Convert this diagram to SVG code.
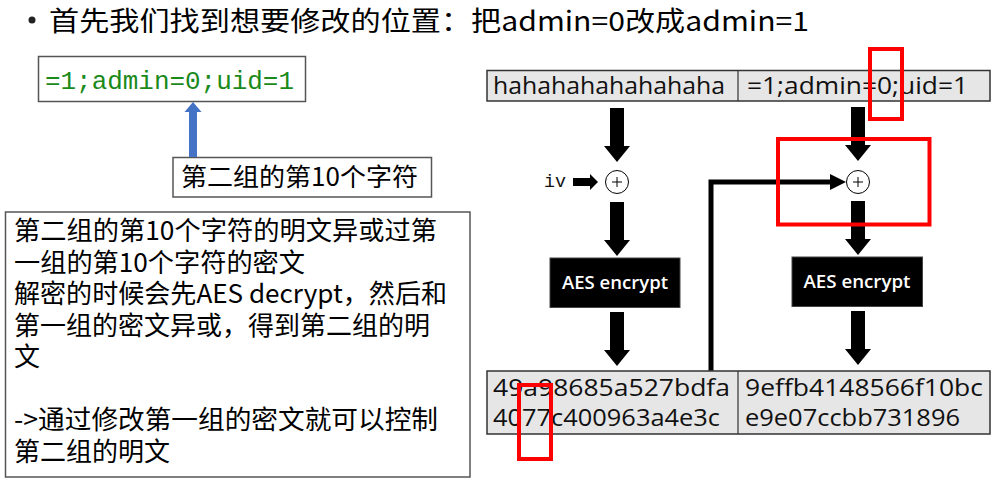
<svg xmlns="http://www.w3.org/2000/svg" xmlns:xlink="http://www.w3.org/1999/xlink" width="997" height="486" viewBox="0 0 997 486">
<style>
.cjk{font-family:"Noto Sans CJK SC","Noto Sans",sans-serif;fill:#000}
.lat{font-family:"Open Sans","Noto Sans","Noto Sans CJK SC",sans-serif;fill:#111}
.mono{font-family:"Liberation Mono","DejaVu Sans Mono",monospace}
.row{fill:#e6e6e6;stroke:#333;stroke-width:1.5}
.box{fill:#fff;stroke:#555;stroke-width:1.5}
.red{fill:none;stroke:#ff0000;stroke-width:4}
.aes{fill:#000;stroke:#444;stroke-width:1}
.aestxt{font-family:"Open Sans","Noto Sans",sans-serif;font-size:18px;font-weight:600;fill:#fff}
.xor{fill:#fff;stroke:#000;stroke-width:1}
</style>
<defs>
<path id="darrow" d="M-7,0 H7 V38 H13 L0,54 L-13,38 H-7 Z" fill="#000"/>
</defs>

<g id="title">
<circle cx="32" cy="20" r="3.5" fill="#222"/>
<text class="cjk" x="49" y="31" font-size="27" textLength="760" lengthAdjust="spacingAndGlyphs" fill="#222">首先我们找到想要修改的位置：把admin=0改成admin=1</text>
</g>

<g id="plaintext-box">
<rect x="38.5" y="56.5" width="267" height="45" class="box"/>
<text class="mono" x="45" y="89" font-size="25" fill="#1a8a1a" textLength="249" lengthAdjust="spacingAndGlyphs">=1;admin=0;uid=1</text>
</g>

<g id="char-label">
<rect x="173" y="157.5" width="258.5" height="39.5" class="box"/>
<text class="cjk" x="181" y="186" font-size="25" textLength="237" lengthAdjust="spacingAndGlyphs">第二组的第10个字符</text>
</g>

<g id="explain-box">
<rect x="5.5" y="212" width="464.5" height="265" class="box"/>
<text class="cjk" font-size="26">
<tspan x="14" y="240" textLength="423" lengthAdjust="spacingAndGlyphs">第二组的第10个字符的明文异或过第</tspan>
<tspan x="14" y="271.5" textLength="291" lengthAdjust="spacingAndGlyphs">一组的第10个字符的密文</tspan>
<tspan x="14" y="303" textLength="433" lengthAdjust="spacingAndGlyphs">解密的时候会先AES decrypt，然后和</tspan>
<tspan x="14" y="334.5">第一组的密文异或，得到第二组的明</tspan>
<tspan x="14" y="366">文</tspan>
<tspan x="14" y="429" textLength="424" lengthAdjust="spacingAndGlyphs">-&gt;通过修改第一组的密文就可以控制</tspan>
<tspan x="14" y="460.5">第二组的明文</tspan>
</text>
</g>

<g id="plain-row">
<rect x="487" y="70.5" width="503" height="30.5" class="row"/>
<line x1="738" y1="70.5" x2="738" y2="101" stroke="#333" stroke-width="1.2"/>
<text class="lat" x="493" y="94" font-size="23" textLength="232" lengthAdjust="spacingAndGlyphs">hahahahahahahaha</text>
<text class="lat" x="747" y="94" font-size="23" textLength="221" lengthAdjust="spacingAndGlyphs">=1;admin=0;uid=1</text>
</g>

<g id="iv">
<text x="544" y="187" font-family="Liberation Mono, DejaVu Sans Mono, monospace" font-size="19" fill="#111" textLength="22" lengthAdjust="spacingAndGlyphs">iv</text>
</g>

<g id="xor-left">
<circle cx="617" cy="182" r="11.5" class="xor"/>
<path d="M612,182 H622 M617,177 V187" stroke="#000" stroke-width="1"/>
</g>
<g id="xor-right">
<circle cx="858" cy="182" r="11.5" class="xor"/>
<path d="M853,182 H863 M858,177 V187" stroke="#000" stroke-width="1"/>
</g>

<g id="aes-left">
<rect x="550" y="258" width="130" height="49.5" class="aes"/>
<text class="aestxt" x="615" y="289" text-anchor="middle" textLength="106" lengthAdjust="spacingAndGlyphs">AES encrypt</text>
</g>
<g id="aes-right">
<rect x="792" y="257" width="130.5" height="49.5" class="aes"/>
<text class="aestxt" x="857" y="288" text-anchor="middle" textLength="107" lengthAdjust="spacingAndGlyphs">AES encrypt</text>
</g>

<g id="cipher-row">
<rect x="487" y="371" width="503" height="63" class="row"/>
<line x1="738" y1="371" x2="738" y2="434" stroke="#333" stroke-width="1.2"/>
<text class="lat" font-size="23">
<tspan x="493" y="396" textLength="237" lengthAdjust="spacingAndGlyphs">49a98685a527bdfa</tspan>
<tspan x="493" y="426" textLength="227" lengthAdjust="spacingAndGlyphs">4077c400963a4e3c</tspan>
</text>
<text class="lat" font-size="23">
<tspan x="745" y="396" textLength="238" lengthAdjust="spacingAndGlyphs">9effb4148566f10bc</tspan>
<tspan x="745" y="426" textLength="215" lengthAdjust="spacingAndGlyphs">e9e07ccbb731896</tspan>
</text>
</g>

<g id="connectors">
<path d="M193,157 V111" stroke="#4472c4" stroke-width="8" fill="none"/>
<path d="M184.5,112 L193,102 L201.5,112 Z" fill="#4472c4"/>
<use xlink:href="#darrow" x="617" y="108"/>
<use xlink:href="#darrow" x="617" y="202"/>
<use xlink:href="#darrow" x="617" y="312"/>
<use xlink:href="#darrow" x="858" y="107"/>
<use xlink:href="#darrow" x="858" y="201"/>
<use xlink:href="#darrow" x="858" y="311"/>
<path d="M573,178 H590 V174 L598,182 L590,190 V186 H573 Z" fill="#000"/>
<path d="M711,370.5 V182 H832" stroke="#000" stroke-width="5" fill="none"/>
<path d="M830,174 L846,182 L830,190 Z" fill="#000"/>
</g>

<g id="highlights">
<rect x="870" y="49" width="32" height="70" class="red"/>
<rect x="778" y="139" width="151.5" height="85.5" class="red"/>
<rect x="519" y="385" width="32" height="74" class="red"/>
</g>
</svg>
